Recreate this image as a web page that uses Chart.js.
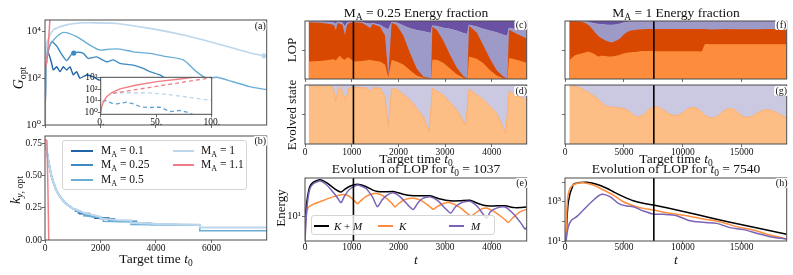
<!DOCTYPE html>
<html>
<head>
<meta charset="utf-8">
<script src="https://cdn.jsdelivr.net/npm/chart.js@4.4.0/dist/chart.umd.min.js"></script>
<style>
  body { margin: 0; background: #fff; }
  #fig { position: relative; width: 793px; height: 275px; overflow: hidden;
         font-family: 'Liberation Serif', 'DejaVu Serif', serif; color: #111; }
  #fig canvas { position: absolute; left: 0; top: 0; }
  .lbl { position: absolute; white-space: nowrap; line-height: 1; transform: translate(-50%, -50%); }
  .rot { transform: translate(-50%, -50%) rotate(-90deg); }
  .boxed { background: #fff; padding: 0 1px; border-radius: 2px; }
  .lbl sub, .legend sub { font-size: 70%; vertical-align: -0.3em; line-height: 0; }
  .legend { position: absolute; border: 1px solid #d4d4d4; border-radius: 3px;
            background: rgba(255,255,255,0.8); box-sizing: border-box; }
  .legend .sw { position: absolute; height: 2px; }
  .legend .tx { position: absolute; white-space: nowrap; line-height: 1; transform: translateY(-50%); }
</style>
</head>
<body>
<div id="fig"></div>
<script>
// ---- data: panel (a) G_opt vs target time, one array per M_A ----
const machLabels = ['0.1', '0.25', '0.5', '1', '1.1'];
const a01T = [0, 40, 120, 240, 300, 420, 540, 660, 780, 900, 1020, 1140, 1260, 1500, 1740, 1980, 2400, 2800, 3300, 3800, 4300];
const a01G = [1, 500, 1170, 420, 220, 300, 186, 300, 220, 300, 135, 186, 98, 135, 112, 81, 95, 90, 85, 80, 75];
const a025T = [0, 30, 60, 240, 420, 600, 780, 960, 1140, 1380, 1560, 1860, 2220, 2460, 2700, 3180, 3540, 3780, 4140, 4320, 4747];
const a025G = [1, 200, 680, 3550, 2300, 1020, 550, 1020, 1230, 1120, 680, 790, 490, 590, 417, 355, 257, 186, 135, 98, 60];
const a05T = [0, 40, 96, 300, 660, 1140, 1620, 1980, 2340, 2700, 3180, 3780, 4380, 4980, 5460, 5820, 6180, 6780, 7380, 7990];
const a05G = [1, 500, 1550, 4000, 8700, 5750, 2500, 1550, 1700, 1700, 1300, 1120, 810, 590, 186, 98, 107, 69, 43, 32];
const a1T = [0, 30, 60, 300, 780, 1380, 1620, 2580, 3780, 4980, 6180, 7020, 7540, 7990];
const a1G = [1, 800, 3000, 11000, 18200, 22400, 22400, 21000, 12900, 6760, 2950, 1550, 1050, 860];
const redT = [0, 1, 2.5, 5.4, 10, 17.4, 32.4, 50.5, 71.5, 82, 100, 130, 160, 190];
const redG = [1, 3.3, 8.7, 23, 52, 107, 234, 454, 770, 1000, 1500, 4000, 15000, 50000];
const t0Marks = [1037, 7540];
// dots drawn on the M_A = 0.25 and M_A = 1 curves
const dotT = [1037, 7890];
const dotG = [1150, 880];
// inset dashed curves
const insRedT = [11, 30, 55, 80, 100];
const insRedG = [45, 88, 210, 500, 1000];
const insLightT = [11, 25, 41, 55, 71.5, 85, 100];
const insLightG = [45, 50, 50, 40, 26, 17, 11];
const insMidT = [1.8, 3.9, 9.9, 14.4, 23.4, 29.4, 36.9, 44.4, 53.5, 62.5, 71.5, 77.5, 83.5];
const insMidG = [8.7, 10.7, 6.3, 5.5, 7.7, 5.5, 2.9, 2.7, 2.9, 1.2, 1.5, 1.1, 0.63];

// ---- panel (b) k_y,opt ----
const kT01 = [0, 60, 120, 180, 240, 300, 400, 500, 600, 700, 800, 900, 1000, 1100, 1100, 1250, 1250, 1600, 1600, 1800, 1800, 2300, 2300, 2700];
const k01 = [0.76, 0.70, 0.62, 0.55, 0.49, 0.45, 0.39, 0.35, 0.32, 0.295, 0.275, 0.26, 0.245, 0.238, 0.225, 0.225, 0.205, 0.205, 0.185, 0.185, 0.17, 0.17, 0.148, 0.148];
const kT025 = [0, 60, 120, 180, 240, 300, 400, 500, 600, 700, 800, 900, 1000, 1200, 1200, 1400, 1400, 1700, 1700, 2000, 2000, 2500, 2500, 3300, 3300, 3800, 3800, 4747];
const k025 = [0.76, 0.70, 0.62, 0.55, 0.49, 0.45, 0.39, 0.35, 0.32, 0.295, 0.275, 0.26, 0.245, 0.228, 0.21, 0.21, 0.19, 0.19, 0.18, 0.18, 0.165, 0.165, 0.145, 0.145, 0.13, 0.13, 0.12, 0.12];
const kT05 = [0, 60, 120, 180, 240, 300, 400, 500, 600, 700, 800, 900, 1000, 1200, 1400, 1400, 2100, 2100, 3100, 3100, 5580, 5580, 7990];
const k05 = [0.76, 0.70, 0.62, 0.55, 0.49, 0.45, 0.39, 0.35, 0.32, 0.295, 0.275, 0.26, 0.245, 0.228, 0.21, 0.19, 0.17, 0.145, 0.14, 0.12, 0.115, 0.072, 0.072];
const kT1 = [0, 60, 120, 180, 240, 300, 400, 500, 600, 700, 800, 900, 1000, 1200, 1400, 1600, 1800, 2000, 2000, 2600, 3100, 3100, 4000, 5580, 5580, 7990];
const k1 = [0.76, 0.70, 0.62, 0.55, 0.49, 0.45, 0.39, 0.35, 0.32, 0.295, 0.275, 0.26, 0.245, 0.228, 0.212, 0.2, 0.19, 0.18, 0.165, 0.155, 0.15, 0.135, 0.125, 0.117, 0.097, 0.097];
const kRedT = [0, 70, 105, 135];
const kRed = [0.78, 0.77, 0.40, 0];

// ---- panels (c),(d): M_A = 0.25 energy fractions (cumulative from bottom) ----
const cT = [78, 320, 535, 620, 660, 700, 750, 800, 856, 900, 950, 1035, 1213, 1300, 1392, 1450, 1606, 1713, 1784, 1855, 1963, 2105, 2248, 2391, 2534, 2641, 2698, 2727, 2819, 2962, 3105, 3248, 3390, 3476, 3511, 3676, 3818, 3961, 4104, 4247, 4333, 4368, 4532, 4747];
const cK1 = [.30, .31, .33, .34, .32, .36, .40, .35, .33, .37, .36, .30, .31, .32, .33, .32, .30, .25, .03, .33, .30, .25, .15, .06, .02, .01, .005, .33, .33, .28, .18, .08, .02, .005, .39, .35, .27, .15, .06, .015, .005, .36, .33, .28];
const cK = [.98, .97, .95, .93, .84, .97, .95, .94, .76, .93, .97, .98, .97, .93, .88, .95, .90, .75, .05, .97, .93, .75, .45, .18, .04, .02, .01, .90, .85, .66, .42, .20, .05, .01, .92, .80, .58, .35, .15, .04, .01, .85, .78, .70];
const cKM1 = [.99, .99, .98, .97, .95, .99, .98, .97, .90, .97, .98, .99, .98, .96, .95, .96, .93, .88, .85, .98, .97, .92, .87, .84, .82, .80, .79, .92, .91, .88, .86, .83, .79, .77, .93, .90, .86, .83, .80, .76, .74, .88, .85, .84];
const dT = [78, 535, 606, 656, 713, 763, 870, 942, 1035, 1320, 1392, 1463, 1606, 1713, 1784, 1855, 1963, 2248, 2534, 2660, 2727, 2962, 3248, 3440, 3511, 3818, 4104, 4300, 4368, 4532, 4747];
const dK = [.98, .98, .95, .72, .93, .96, .75, .95, .96, .95, .89, .95, .95, .80, .29, .94, .93, .75, .46, .21, .94, .83, .58, .32, .93, .75, .52, .18, .89, .82, .75];

// ---- panels (f),(g): M_A = 1 ----
const fT = [368, 849, 1415, 1981, 2405, 2830, 3113, 3679, 3962, 4670, 4953, 5519, 6085, 6368, 7500, 11178, 11603, 11886, 12311, 18820];
const fK1 = [.32, .41, .44, .47, .44, .39, .40, .39, .39, .42, .44, .46, .47, .48, .48, .48, .48, .60, .60, .60];
const fK = [1.0, .995, .985, .93, .84, .74, .70, .645, .63, .70, .76, .83, .85, .855, .86, .86, .86, .86, .855, .86];
const fKM1 = [1.0, 1.0, .995, .98, .96, .945, .94, .93, .93, .95, .97, .99, 1.0, 1.0, 1.0, 1.0, 1.0, 1.0, 1.0, 1.0];
const gT = [368, 991, 1840, 2689, 3538, 4387, 5236, 6226, 7641, 9339, 10896, 12452, 14010, 15424, 17122, 18820];
const gK = [.98, .97, .89, .78, .64, .62, .58, .46, .63, .48, .62, .44, .60, .45, .58, .44];

// ---- panel (e): LOP energy for t0 = 1037 ----
const eTM = [0, 20, 50, 100, 180, 320, 460, 600, 700, 771, 850, 950, 1121, 1300, 1450, 1549, 1650, 1750, 1892, 2050, 2220, 2320, 2420, 2530, 2677, 2850, 3020, 3120, 3220, 3350, 3533, 3700, 3820, 3890, 3970, 4100, 4283, 4450, 4620, 4711, 4747];
const eM = [4.5, 8, 15, 24, 29, 31.6, 28, 22, 18, 15.5, 19.5, 24, 27.7, 25, 18.5, 13.6, 17, 19.8, 21.5, 18.5, 14, 12.4, 15.5, 18, 18.9, 16.5, 12.5, 11, 13.5, 15.5, 16.3, 13.5, 10.5, 9.3, 11.5, 13, 13.5, 11, 8, 6.5, 7];
const eTK = [0, 20, 50, 100, 200, 320, 450, 600, 771, 892, 1000, 1070, 1121, 1180, 1300, 1450, 1549, 1700, 1850, 1927, 2000, 2150, 2320, 2500, 2680, 2748, 2820, 2980, 3105, 3300, 3480, 3554, 3630, 3780, 3890, 4100, 4290, 4354, 4420, 4600, 4747];
const eK = [5, 10, 12.5, 13.8, 15, 16, 17.3, 18.8, 20.2, 20, 18, 16.2, 15, 16.2, 19, 20.8, 21, 19, 15.5, 13.5, 15, 17.3, 18, 16.5, 13.5, 12.5, 13.5, 15.2, 15.5, 13.5, 10.8, 10, 10.8, 12.6, 13, 11, 8.8, 8.1, 9, 11.5, 12.5];
const eTKM = [0, 20, 50, 100, 180, 320, 460, 600, 700, 771, 850, 950, 1121, 1300, 1450, 1549, 1700, 1892, 2100, 2320, 2500, 2677, 2900, 3105, 3320, 3533, 3720, 3890, 4100, 4283, 4500, 4747];
const eKM = [6, 12, 18, 26, 30.5, 33, 30, 25.5, 23, 22, 24, 26.5, 28.5, 26.5, 23.5, 22.5, 22.2, 22.5, 20.5, 19.5, 19.5, 19.5, 17.5, 16.5, 16.5, 16.8, 15, 14, 14, 14, 13.2, 13.5];

// ---- panel (h): LOP energy for t0 = 7540 ----
const hTKM = [85, 283, 707, 1000, 1274, 1840, 2689, 3538, 4104, 4953, 5802, 6651, 7500, 9764, 12594, 15424, 18820];
const hKM = [10, 1000, 7500, 8900, 9500, 9770, 7760, 4900, 3240, 1820, 1120, 830, 680, 350, 140, 60, 22];
const hTK = [85, 198, 424, 849, 1557, 2405, 3255, 4104, 4953, 5802, 6651, 7500, 8915, 10330, 11745, 13160, 14576, 15990, 17405, 18820];
const hK = [10, 1000, 4900, 8000, 9330, 7080, 3980, 2190, 1000, 630, 460, 380, 257, 195, 132, 95, 54, 36, 20, 12.6];
const hTM = [85, 283, 566, 990, 1557, 2264, 3113, 3820, 4528, 5236, 5802, 6651, 7500, 8349, 9481, 10613, 11745, 12877, 14010, 15141, 16272, 17405, 18820];
const hM = [10, 54, 117, 174, 380, 1000, 2400, 1820, 830, 600, 560, 340, 234, 229, 195, 107, 89, 79, 48, 38, 25, 16.6, 12.6];

// ---- styling ----
const colMach = ['#1f63a8', '#3d8bc4', '#6aaed6', '#bcd6ec', '#ef7f86'];
const kLight = '#fd8d3c', kDark = '#d94801', mLight = '#9e9ac8', mDark = '#6a51a3';
const evK = '#fdbe85', evM = '#cbc9e2', evEdge = '#fdae6b';
const colKM = '#000000', colK = '#fd8d3c', colM = '#7a63b6';
const sup = { 1: '10⁰', 10: '10¹', 100: '10²', 1000: '10³', 10000: '10⁴' };

Chart.defaults.font.family = "'Liberation Serif', 'DejaVu Serif', serif";
Chart.defaults.font.size = 9.5;
Chart.defaults.color = '#111';

const W = 793, H = 275, YW = 30, XH = 16;
const fig = document.getElementById('fig');

Chart.register({
  id: 'frame',
  beforeDraw(chart, args, o) {
    if (!o.bg) return;
    const a = chart.chartArea, ctx = chart.ctx;
    ctx.save();
    ctx.fillStyle = o.bg;
    ctx.fillRect(a.left, a.top, a.right - a.left, a.bottom - a.top);
    ctx.restore();
  },
  afterDatasetsDraw(chart, args, o) {
    const a = chart.chartArea, ctx = chart.ctx;
    ctx.save();
    if (o.vline != null) {
      const x = chart.scales.x.getPixelForValue(o.vline);
      ctx.strokeStyle = '#000';
      ctx.lineWidth = 1.6;
      ctx.beginPath(); ctx.moveTo(x, a.top); ctx.lineTo(x, a.bottom); ctx.stroke();
    }
    ctx.strokeStyle = '#4a4a4a';
    ctx.lineWidth = 1;
    ctx.strokeRect(a.left, a.top, a.right - a.left, a.bottom - a.top);
    ctx.restore();
  }
});

const pts = (xs, ys) => xs.map((x, i) => ({ x, y: ys[i] }));

function line(xs, ys, color, width, extra) {
  return Object.assign({ data: pts(xs, ys), borderColor: color, borderWidth: width,
    pointRadius: 0, fill: false, tension: 0 }, extra);
}
function area(xs, ys, color, fill, extra) {
  return Object.assign({ data: pts(xs, ys), backgroundColor: color, borderWidth: 0,
    borderColor: 'rgba(0,0,0,0)', pointRadius: 0, fill, tension: 0 }, extra);
}
function dot(i, color) {
  return { data: [{ x: dotT[i], y: dotG[i] }], showLine: false, pointRadius: 2.6,
    pointBackgroundColor: color, pointBorderWidth: 0, order: 0 };
}

function axis(type, min, max, ticks, labels, o = {}) {
  return {
    type, min, max,
    afterBuildTicks: s => { s.ticks = ticks.map(v => ({ value: v })); },
    ticks: {
      display: !!labels, autoSkip: false, maxRotation: 0, padding: o.pad ?? 0,
      font: { size: o.size || 9.5 },
      callback: v => labels ? (labels[ticks.indexOf(v)] ?? '') : ''
    },
    grid: { drawOnChartArea: false, drawTicks: true, tickLength: 3, color: '#4a4a4a', lineWidth: 0.8 },
    border: { display: false }
  };
}

function panel(box, datasets, xAx, yAx, frame) {
  const cv = document.createElement('canvas');
  cv.width = W; cv.height = H;
  fig.appendChild(cv);
  xAx.afterFit = s => { s.height = XH; };
  yAx.afterFit = s => { s.width = YW; };
  return new Chart(cv, {
    type: 'line',
    data: { datasets },
    options: {
      responsive: false, animation: false, events: [],
      layout: { padding: { left: box.l - YW, top: box.t, right: W - box.r, bottom: H - box.b - XH } },
      scales: { x: xAx, y: yAx },
      plugins: { legend: { display: false }, tooltip: { enabled: false }, frame: frame || {} }
    }
  });
}

const logLabels = ticks => ticks.map(v => sup[v]);

// (a)
panel({ l: 45, r: 266.7, t: 20, b: 125 }, [
  line(redT, redG, colMach[4], 1.5, { order: 0 }),
  dot(1, colMach[3]),
  dot(0, colMach[1]),
  line(a1T, a1G, colMach[3], 1.6, { order: 1, tension: 0.25 }),
  line(a05T, a05G, colMach[2], 1.4, { order: 2, tension: 0.25 }),
  line(a025T, a025G, colMach[1], 1.4, { order: 3, tension: 0.2 }),
  line(a01T, a01G, colMach[0], 1.4, { order: 4, tension: 0.15 })
], axis('linear', 0, 7990, [0, 2000, 4000, 6000], null),
   axis('logarithmic', 1, 29400, [1, 100, 10000], logLabels([1, 100, 10000]), { size: 10.5, pad: 1 }));

// inset of (a)
panel({ l: 100.7, r: 211.7, t: 77.3, b: 114.3 }, [
  line(redT, redG, colMach[4], 1.4),
  line(insRedT, insRedG, colMach[4], 1.3, { borderDash: [4, 3] }),
  line(insLightT, insLightG, colMach[3], 1.3, { borderDash: [4, 3] }),
  line(insMidT, insMidG, '#5ca1d3', 1.3, { borderDash: [4, 3] })
], axis('linear', 0, 100, [0, 50, 100], ['0.', '50.', '100.'], { pad: -1 }),
   axis('logarithmic', 0.73, 1070, [1, 10, 100, 1000], logLabels([1, 10, 100, 1000]), { size: 9.5 }),
   { bg: '#fff' });

// (b)
panel({ l: 45, r: 266.7, t: 136, b: 240 }, [
  line(kRedT, kRed, colMach[4], 1.5, { order: 0 }),
  line(kT1, k1, colMach[3], 2.2, { order: 1 }),
  line(kT05, k05, colMach[2], 1.6, { order: 2 }),
  line(kT025, k025, colMach[1], 1.6, { order: 3 }),
  line(kT01, k01, colMach[0], 1.6, { order: 4 })
], axis('linear', 0, 7990, [0, 2000, 4000, 6000], ['0', '2000', '4000', '6000']),
   axis('linear', 0, 0.807, [0, 0.25, 0.5, 0.75], ['0.00', '0.25', '0.50', '0.75']));

// (c)
panel({ l: 305, r: 526.7, t: 21, b: 79 }, [
  area(cT, cK1, kLight, 'origin'),
  area(cT, cK, kDark, 'origin'),
  area(cT, cKM1, mLight, 'origin', { borderColor: mLight, borderWidth: 0.8 }),
  area(cT, cKM1, mDark, 'end')
], axis('linear', 0, 4747, [0, 1000, 2000, 3000, 4000], null),
   axis('linear', 0, 1, [0.5], null), { vline: t0Marks[0] });

// (d)
panel({ l: 305, r: 526.7, t: 85, b: 144 }, [
  area(dT, dK, evK, 'origin', { borderColor: evEdge, borderWidth: 1 }),
  area(dT, dK, evM, 'end')
], axis('linear', 0, 4747, [0, 1000, 2000, 3000, 4000], ['0', '1000', '2000', '3000', '4000']),
   axis('linear', 0, 1, [0.5], null), { vline: t0Marks[0] });

// (e)
panel({ l: 305, r: 526.7, t: 178, b: 241 }, [
  line(eTM, eM, colM, 1.5, { order: 0, tension: 0.2 }),
  line(eTK, eK, colK, 1.5, { order: 1, tension: 0.2 }),
  line(eTKM, eKM, colKM, 1.5, { order: 2, tension: 0.2 })
], axis('linear', 0, 4747, [0, 1000, 2000, 3000, 4000], ['0', '1000', '2000', '3000', '4000'], { pad: -2 }),
   axis('logarithmic', 4.4, 35, [10], ['10¹'], { size: 10.5, pad: 1 }), { vline: t0Marks[0] });

// (f)
panel({ l: 565, r: 786.7, t: 21, b: 79 }, [
  area(fT, fK1, kLight, 'origin', { tension: 0.2 }),
  area(fT, fK, kDark, 'origin', { tension: 0.3 }),
  area(fT, fKM1, mLight, 'origin', { borderColor: mLight, borderWidth: 0.8, tension: 0.3 }),
  area(fT, fKM1, mDark, 'end', { tension: 0.3 })
], axis('linear', 0, 18820, [0, 5000, 10000, 15000], null),
   axis('linear', 0, 1, [0.5], null), { vline: t0Marks[1] });

// (g)
panel({ l: 565, r: 786.7, t: 85, b: 144 }, [
  area(gT, gK, evK, 'origin', { borderColor: evEdge, borderWidth: 1, tension: 0.4 }),
  area(gT, gK, evM, 'end', { tension: 0.4 })
], axis('linear', 0, 18820, [0, 5000, 10000, 15000], ['0', '5000', '10000', '15000']),
   axis('linear', 0, 1, [0.5], null), { vline: t0Marks[1] });

// (h)
panel({ l: 565, r: 786.7, t: 178, b: 241 }, [
  line(hTM, hM, colM, 1.5, { order: 0, tension: 0.3 }),
  line(hTK, hK, colK, 1.5, { order: 1, tension: 0.3 }),
  line(hTKM, hKM, colKM, 1.5, { order: 2, tension: 0.3 })
], axis('linear', 0, 18820, [0, 5000, 10000, 15000], ['0', '5000', '10000', '15000'], { pad: -2 }),
   axis('logarithmic', 10, 16200, [10, 100, 1000, 10000], ['10¹', '', '10³', ''], { size: 10.5, pad: 1 }),
   { vline: t0Marks[1] });

// ---- text ----
function label(html, x, y, size, cls) {
  const d = document.createElement('div');
  d.className = 'lbl' + (cls ? ' ' + cls : '');
  d.style.left = x + 'px';
  d.style.top = y + 'px';
  d.style.fontSize = size + 'px';
  d.innerHTML = html;
  fig.appendChild(d);
  return d;
}
const t0 = '<i>t</i><sub>0</sub>';
label('<i>G</i><sub>opt</sub>', 19, 78, 14, 'rot');
label('<i>k</i><sub><i>y</i>, opt</sub>', 16, 190, 14, 'rot');
label('Target time ' + t0, 156, 259, 13.5);
label('M<sub>A</sub> = ' + machLabels[1] + ' Energy fraction', 416, 12.5, 13.5);
label('M<sub>A</sub> = ' + machLabels[3] + ' Energy fraction', 676, 12.5, 13.5);
label('LOP', 291, 50, 13, 'rot');
label('Evolved state', 291, 115, 13, 'rot');
label('Energy', 280, 208, 13, 'rot');
label('Target time ' + t0, 416, 158.5, 13.5);
label('Target time ' + t0, 676, 158.5, 13.5);
label('Evolution of LOP for ' + t0 + ' = ' + t0Marks[0], 416, 169, 13.5);
label('Evolution of LOP for ' + t0 + ' = ' + t0Marks[1], 676, 169, 13.5);
label('<i>t</i>', 416, 260, 13.5);
label('<i>t</i>', 676, 260, 13.5);
[['(a)', 260.3, 25.8], ['(b)', 260.3, 141], ['(c)', 521.3, 25], ['(d)', 521.3, 90.5],
 ['(e)', 521.7, 183.3], ['(f)', 781.3, 25], ['(g)', 781.3, 90.5], ['(h)', 781.7, 183.3]]
  .forEach(([s, x, y]) => label(s, x, y, 10, 'boxed'));

function legend(box, items, size) {
  const lg = document.createElement('div');
  lg.className = 'legend';
  Object.assign(lg.style, { left: box.x + 'px', top: box.y + 'px', width: box.w + 'px', height: box.h + 'px' });
  items.forEach(it => {
    const sw = document.createElement('div');
    sw.className = 'sw';
    Object.assign(sw.style, { left: it.x + 'px', top: (it.y - 1) + 'px', width: it.len + 'px', background: it.c });
    lg.appendChild(sw);
    const tx = document.createElement('div');
    tx.className = 'tx';
    Object.assign(tx.style, { left: (it.x + it.len + it.gap) + 'px', top: it.y + 'px', fontSize: size + 'px' });
    tx.innerHTML = it.t;
    lg.appendChild(tx);
  });
  fig.appendChild(lg);
}
const ma = i => 'M<sub>A</sub> = ' + machLabels[i];
legend({ x: 61.7, y: 140, w: 185, h: 50 }, [
  { c: colMach[0], t: ma(0), x: 8.3, y: 10, len: 21.7, gap: 8.3 },
  { c: colMach[1], t: ma(1), x: 8.3, y: 24.3, len: 21.7, gap: 8.3 },
  { c: colMach[2], t: ma(2), x: 8.3, y: 39, len: 21.7, gap: 8.3 },
  { c: colMach[3], t: ma(3), x: 110, y: 10, len: 21.7, gap: 6.7 },
  { c: colMach[4], t: ma(4), x: 110, y: 24.3, len: 21.7, gap: 6.7 }
], 11.5);
legend({ x: 310.7, y: 215, w: 184, h: 20 }, [
  { c: colKM, t: '<i>K</i> + <i>M</i>', x: 2.6, y: 10, len: 15, gap: 4.7 },
  { c: colK, t: '<i>K</i>', x: 66, y: 10, len: 15, gap: 6.3 },
  { c: colM, t: '<i>M</i>', x: 137.3, y: 10, len: 15, gap: 7 }
], 11);
</script>
</body>
</html>
